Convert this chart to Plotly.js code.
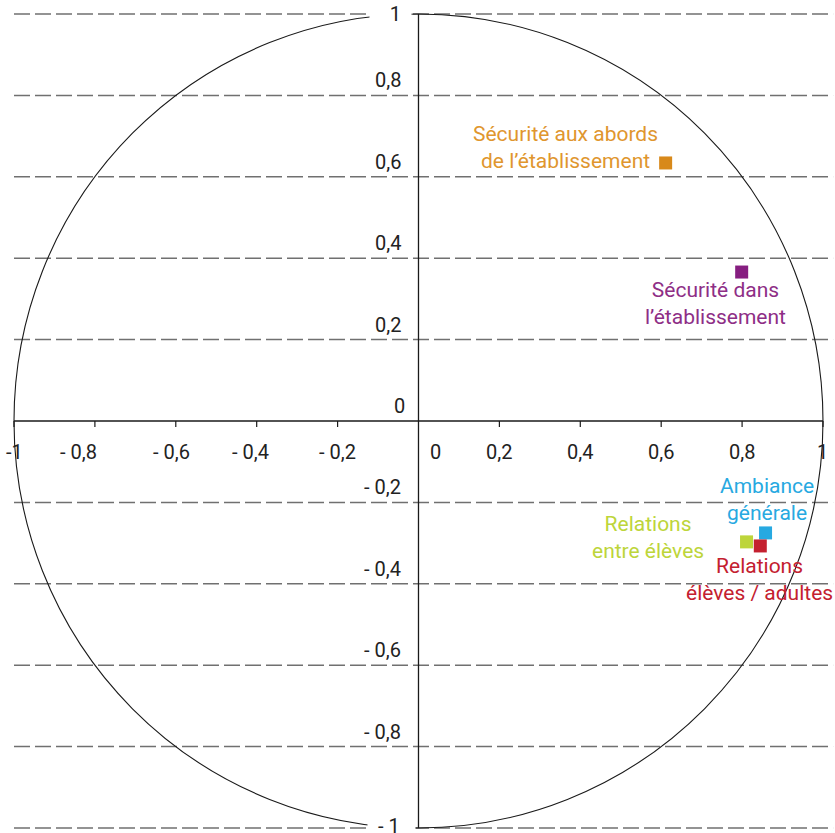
<!DOCTYPE html>
<html>
<head>
<meta charset="utf-8">
<script src="https://cdn.plot.ly/plotly-3.0.1.min.js"></script>
<style>
  html, body { margin: 0; padding: 0; background: #fff; }
  #chart { width: 835px; height: 833px; }
</style>
</head>
<body>
<div id="chart"></div>
<script>
// correlation circle: coordinates of each item on the two first axes
const names = [
  'Sécurité aux abords<br>de l’établissement',
  'Sécurité dans<br>l’établissement',
  'Ambiance<br>générale',
  'Relations<br>entre élèves',
  'Relations<br>élèves / adultes'
];
const xValues = [0.611, 0.799, 0.858, 0.811, 0.845];
const yValues = [0.634, 0.366, -0.275, -0.297, -0.307];
const markerColors = ['#d8891a', '#861e80', '#27a9e1', '#bdd53a', '#c4202f'];
const textColors = ['#e0962e', '#8e2e86', '#27a9e1', '#bdd53a', '#c4202f'];

const gridValues = [1, 0.8, 0.6, 0.4, 0.2, -0.2, -0.4, -0.6, -0.8, -1];
const xTicks = [-1, -0.8, -0.6, -0.4, -0.2, 0, 0.2, 0.4, 0.6, 0.8, 1];
const yTicks = [1, 0.8, 0.6, 0.4, 0.2, 0, -0.2, -0.4, -0.6, -0.8, -1];

// label offsets (pixels) relative to each marker
const labelShift = [[-100, 15], [-26, -31], [1, 33], [-99, 4], [-1, -34]];

const fontFamily = 'Roboto, "Open Sans", sans-serif';
const sp = '&nbsp;';

function frNumber(v) {
  const s = Math.abs(v).toString().replace('.', ',');
  return v < 0 ? '- ' + s : s;
}

const shapes = [];
const annotations = [];

// dashed horizontal guides
gridValues.forEach(v => {
  shapes.push({
    type: 'line', xref: 'x', yref: 'y',
    x0: -1, x1: 1.025, y0: v, y1: v,
    line: { color: '#707070', width: 1.5, dash: '16px,5px' },
    layer: 'below'
  });
});

// unit circle
shapes.push({
  type: 'circle', xref: 'x', yref: 'y',
  x0: -1, y0: -1, x1: 1, y1: 1,
  line: { color: '#1a1a1a', width: 1.1 }
});

// axes
shapes.push({
  type: 'line', xref: 'x', yref: 'y', x0: -1, x1: 1, y0: 0, y1: 0,
  line: { color: '#1a1a1a', width: 1.3 }
});
shapes.push({
  type: 'line', xref: 'x', yref: 'y', x0: 0, x1: 0, y0: -1, y1: 1,
  line: { color: '#1a1a1a', width: 1.3 }
});

// small ticks under the horizontal axis
xTicks.filter(v => v !== 0).forEach(v => {
  shapes.push({
    type: 'line', xref: 'x', yref: 'y',
    ysizemode: 'pixel', yanchor: 0,
    x0: v, x1: v, y0: 0, y1: -6,
    line: { color: '#1a1a1a', width: 1.2 }
  });
});

// x tick labels
xTicks.forEach(v => {
  let shift = 0;
  if (v === 0) shift = 17;
  if (v === -0.8) shift = -16;
  if (v === -0.6) shift = -4;
  if (v === -0.4) shift = -6;
  annotations.push({
    xref: 'x', yref: 'y', x: v, y: 0,
    text: v === -1 ? '-1' : frNumber(v),
    showarrow: false, xanchor: 'center', yanchor: 'middle',
    xshift: shift, yshift: -31,
    font: { family: fontFamily, size: 20, color: '#222' }
  });
});

// y tick labels
yTicks.forEach(v => {
  const ann = {
    xref: 'x', yref: 'y', x: 0, y: v,
    text: frNumber(v),
    showarrow: false, xanchor: 'right', yanchor: 'bottom',
    xshift: -15, yshift: 1,
    font: { family: fontFamily, size: 20, color: '#222' }
  };
  if (v === 1) {
    // label sits on the line, on a white patch
    ann.yanchor = 'middle';
    ann.yshift = 0;
    ann.xshift = -6;
    ann.bgcolor = '#ffffff';
    ann.borderpad = 0;
    ann.text = sp + sp + sp + sp + '1' + sp + sp;
  }
  if (v === -1) {
    ann.yanchor = 'middle';
    ann.yshift = 2;
    ann.xshift = -2;
    ann.bgcolor = '#ffffff';
    ann.borderpad = 0;
    ann.text = sp + sp + '- 1' + sp + sp + sp;
  }
  if (v === 0) {
    ann.xshift = -11;
  }
  annotations.push(ann);
});

// item labels
names.forEach((n, i) => {
  annotations.push({
    xref: 'x', yref: 'y', x: xValues[i], y: yValues[i],
    text: n, showarrow: false,
    xanchor: 'center', yanchor: 'middle', align: 'center',
    xshift: labelShift[i][0], yshift: labelShift[i][1],
    font: { family: fontFamily, size: 21, color: textColors[i] }
  });
});

const trace = {
  x: xValues,
  y: yValues,
  type: 'scatter',
  mode: 'markers',
  marker: { symbol: 'square', size: 13, color: markerColors, line: { width: 0 } },
  hoverinfo: 'skip'
};

const layout = {
  width: 835,
  height: 833,
  margin: { l: 0, r: 0, t: 0, b: 0 },
  paper_bgcolor: '#ffffff',
  plot_bgcolor: '#ffffff',
  showlegend: false,
  font: { family: fontFamily },
  xaxis: { range: [-1.0346, 1.0297], visible: false, fixedrange: true },
  yaxis: { range: [-1.0123, 1.0344], visible: false, fixedrange: true },
  shapes: shapes,
  annotations: annotations
};

Plotly.newPlot('chart', [trace], layout, { displayModeBar: false, staticPlot: true });
</script>
</body>
</html>
